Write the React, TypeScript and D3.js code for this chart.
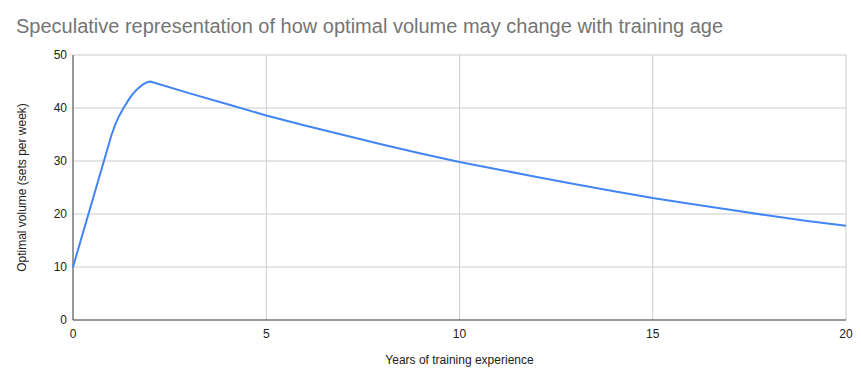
import React from "react";
import * as d3 from "d3";

const years = [0, 1, 1.1, 1.2, 1.3, 1.4, 1.5, 1.6, 1.7, 1.8, 1.9, 2, 3, 4, 5, 6, 7, 8, 9, 10, 11, 12, 13, 14, 15, 16, 17, 18, 19, 20];
const volume = [10, 35, 37, 38.6, 39.9, 41.1, 42.2, 43.1, 43.8, 44.4, 44.8, 45, 42.8, 40.7, 38.6, 36.7, 34.9, 33.1, 31.4, 29.8, 28.4, 27.0, 25.6, 24.3, 23.0, 21.9, 20.8, 19.7, 18.7, 17.8];
const xTicks = [0, 5, 10, 15, 20];
const yTicks = [0, 10, 20, 30, 40, 50];

const W = 861, H = 384;
const margin = { left: 73, right: 15, top: 55, bottom: 64 };

export default function App() {
  const x = d3.scaleLinear().domain([0, 20]).range([margin.left, W - margin.right]);
  const y = d3.scaleLinear().domain([0, 50]).range([H - margin.bottom, margin.top]);

  const line = d3.line<number>()
    .x((d, i) => x(years[i]))
    .y(d => y(d))
    .curve(d3.curveLinear);

  const font = "Arial, 'Liberation Sans', sans-serif";

  return (
    <svg width={W} height={H} style={{ position: "absolute", left: 0, top: 0 }} fontFamily={font}>
      <rect width={W} height={H} fill="#fff" />
      <text x={16} y={33} fontSize={20} fill="#757575">
        Speculative representation of how optimal volume may change with training age
      </text>
      {/* gridlines */}
      {yTicks.filter(t => t > 0).map(t => (
        <line key={"gy" + t} x1={x(0)} x2={x(20)} y1={y(t)} y2={y(t)} stroke="#cccccc" strokeWidth={1} />
      ))}
      {xTicks.filter(t => t > 0).map(t => (
        <line key={"gx" + t} x1={x(t)} x2={x(t)} y1={y(0)} y2={y(50)} stroke="#cccccc" strokeWidth={1} />
      ))}
      {/* axes */}
      <line x1={x(0)} x2={x(0)} y1={y(0)} y2={y(50)} stroke="#333" strokeWidth={1} />
      <line x1={x(0)} x2={x(20)} y1={y(0)} y2={y(0)} stroke="#333" strokeWidth={1} />
      {yTicks.map(t => (
        <text key={"ty" + t} x={x(0) - 6} y={y(t) + 4} fontSize={12} textAnchor="end" fill="#222">{t}</text>
      ))}
      {xTicks.map(t => (
        <text key={"tx" + t} x={x(t)} y={y(0) + 18} fontSize={12} textAnchor="middle" fill="#222">{t}</text>
      ))}
      <path d={line(volume) || ""} fill="none" stroke="#4285f4" strokeWidth={2} strokeLinejoin="round" />
      <text x={(x(0) + x(20)) / 2} y={364} fontSize={12} textAnchor="middle" fill="#222">
        Years of training experience
      </text>
      <text transform={`translate(26, ${(y(0) + y(50)) / 2}) rotate(-90)`} fontSize={12} textAnchor="middle" fill="#222">
        Optimal volume (sets per week)
      </text>
    </svg>
  );
}
